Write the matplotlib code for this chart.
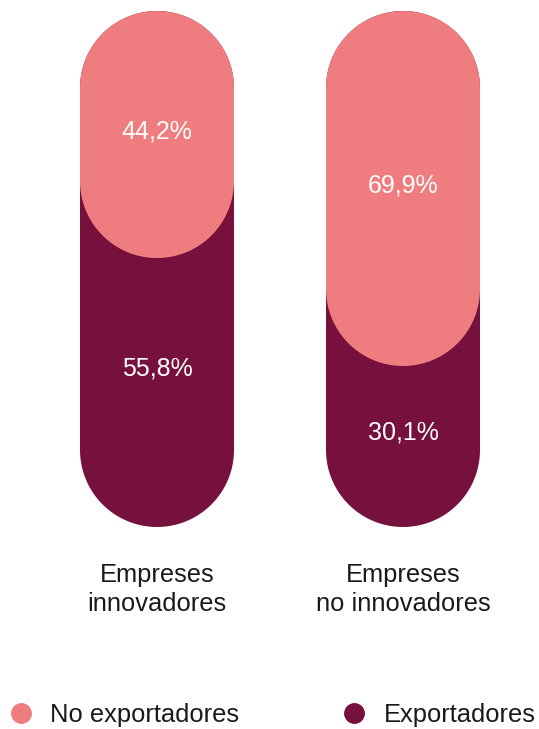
import numpy as np
import matplotlib
matplotlib.use("Agg")
import matplotlib.pyplot as plt
from matplotlib.patches import Polygon
from matplotlib.lines import Line2D

# data
categories = ["Empreses\ninnovadores", "Empreses\nno innovadores"]
no_export = [44.2, 69.9]
export = [55.8, 30.1]
series_names = ["No exportadores", "Exportadores"]

PINK = "#EF7C7E"
WINE = "#76103C"
INK = "#1a1a1a"
FONT = "Liberation Sans"

plt.rcParams["font.family"] = [FONT, "DejaVu Sans"]


def pill(ax, xc, y0, y1, width, color, z):
    # rounded-end bar; radius corrected for the axes aspect so the ends are circular
    p = ax.transData.transform([(0, 0), (1, 1)])
    sx, sy = p[1, 0] - p[0, 0], p[1, 1] - p[0, 1]
    rx = width / 2
    ry = rx * sx / sy
    t = np.linspace(0, np.pi, 80)
    top = np.c_[xc + rx * np.cos(t), y1 - ry + ry * np.sin(t)]
    bot = np.c_[xc - rx * np.cos(t), y0 + ry - ry * np.sin(t)]
    ax.add_patch(Polygon(np.vstack([top, bot]), closed=True, color=color,
                         lw=0, zorder=z))


def pink_span(v):
    # the pink cap is not drawn to a strict linear scale in the original
    return 11.9 + 0.814 * v


fig = plt.figure(figsize=(5.39, 7.29), dpi=100)
ax = fig.add_axes([0, 0.2771, 1, 0.7078])
ax.set_xlim(-157 / 246, (539 - 157) / 246)
ax.set_ylim(0, 100)
ax.axis("off")

bw = 154 / 246
for i, (ne, ex) in enumerate(zip(no_export, export)):
    h = pink_span(ne)
    pill(ax, i, 0, 100, bw, WINE, 1)
    pill(ax, i, 100 - h, 100, bw, PINK, 2)
    ax.text(i, 100 - h / 2 + 0.5, f"{ne:.1f}%".replace(".", ","), ha="center",
            va="center", color="white", fontsize=18, zorder=3)
    ax.text(i, 0.59 * (100 - h), f"{ex:.1f}%".replace(".", ","), ha="center",
            va="center", color="white", fontsize=18, zorder=3)

for i, cat in enumerate(categories):
    ax.annotate(cat, (i, 0), xytext=(0, -26), textcoords="offset points",
                ha="center", va="top", fontsize=18.4, color=INK,
                linespacing=1.27, annotation_clip=False)

for name, col, x0 in [(series_names[0], PINK, 8.2 / 539), (series_names[1], WINE, 341.5 / 539)]:
    h = Line2D([], [], marker="o", ls="", color=col, markersize=14)
    lg = fig.legend([h], [name], loc="center left", bbox_to_anchor=(x0, 0.019),
                    frameon=False, handlelength=1, handletextpad=0.65,
                    borderpad=0, borderaxespad=0,
                    prop=dict(family=FONT, size=18.4))
    for t in lg.get_texts():
        t.set_color(INK)

fig.savefig("out.png", dpi=100)
